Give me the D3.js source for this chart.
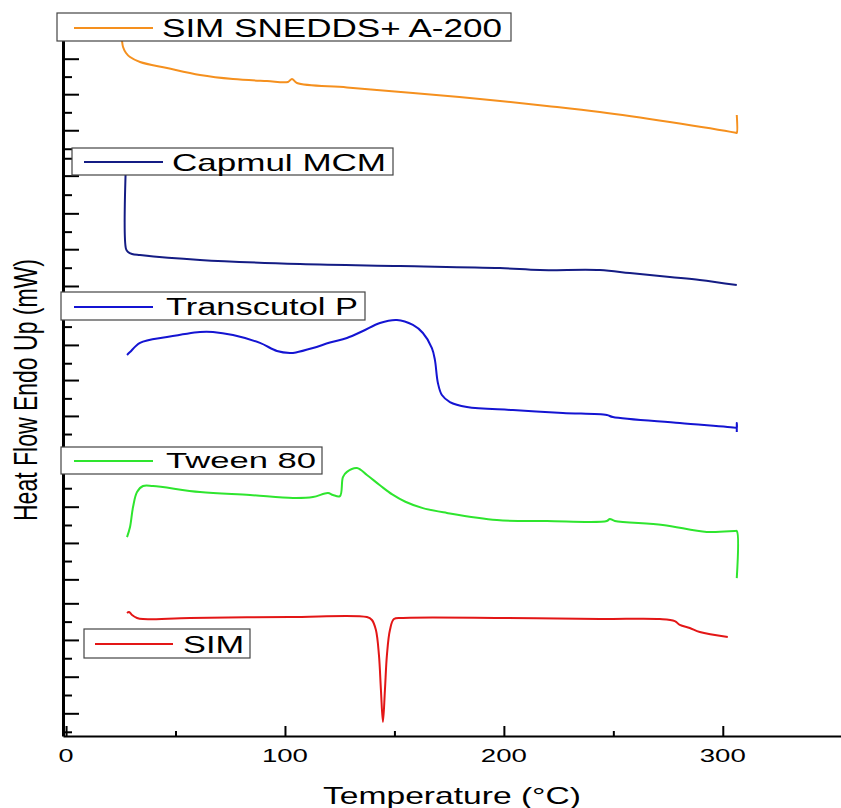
<!DOCTYPE html>
<html>
<head>
<meta charset="utf-8">
<script src="https://cdn.jsdelivr.net/npm/d3@7"></script>
<style>
  html, body { margin: 0; padding: 0; background: #fff; }
  svg { display: block; }
  text { font-family: "Liberation Sans", Arial, sans-serif; fill: #000; }
</style>
</head>
<body>
<script>
// ---------------- DATA ----------------
const seriesNames = ["SIM SNEDDS+ A-200", "Capmul MCM", "Transcutol P", "Tween 80", "SIM"];
const seriesColors = ["#F5901E", "#141C84", "#1414D2", "#2EE52E", "#E31616"];

const xMajorTicks = [0, 100, 200, 300];
const xMinorTicks = [50, 150, 250];
const xTickLabels = ["0", "100", "200", "300"];

const yMajorTicks = [1.24, 3.24, 5.25, 7.25, 8.56, 10.55, 12.53, 14.54, 17.49, 19.45, 21.37, 23.58, 24.59, 26.6, 28.56, 30.62, 33.1, 35.07, 37.01];
const yMinorTicks = [0.23, 2.24, 4.25, 6.25, 9.56, 11.53, 13.54, 15.52, 16.5, 18.45, 20.37, 22.37, 25.59, 27.56, 29.58, 31.57, 32.09, 34.08, 36.03];

// SIM SNEDDS+ A-200 (temperature in °C, heat flow in stacked arbitrary mW units)
const sneddsT  = [25.1, 25.57, 26.03, 27.4, 29.22, 33.79, 46.12, 61.19, 76.26, 91.78, 101.37, 103.2, 105.48, 128.31, 158.45, 189.04, 219.63, 243.84, 275.8, 306.0, 306.39, 306.39];
const sneddsHF = [38.58, 37.98, 37.65, 37.32, 37.10, 36.83, 36.50, 36.12, 35.90, 35.79, 35.74, 35.90, 35.68, 35.44, 35.14, 34.81, 34.43, 34.10, 33.55, 32.96, 32.95, 33.93];

// Capmul MCM
const capmulT  = [27.4, 27.4, 28.31, 30.14, 33.79, 61.19, 106.85, 152.51, 198.17, 216.44, 243.84, 257.53, 275.8, 289.5, 306.39];
const capmulHF = [31.48, 26.61, 26.45, 26.34, 26.28, 26.01, 25.79, 25.68, 25.57, 25.46, 25.46, 25.30, 25.08, 24.92, 24.64];

// Transcutol P
const transT  = [27.85, 29.22, 33.79, 46.12, 61.19, 67.12, 76.26, 88.58, 96.35, 102.28, 105.0, 112.79, 120.55, 128.31, 135.62, 143.38, 151.14, 158.45, 163.01, 167.12, 168.49, 169.86, 171.69, 175.34, 183.11, 204.11, 226.94, 247.03, 249.77, 280.37, 306.0, 306.39, 306.39, 306.39];
const transHF = [20.82, 20.98, 21.48, 21.80, 22.08, 22.08, 21.91, 21.48, 21.04, 20.93, 20.96, 21.20, 21.50, 21.75, 22.13, 22.57, 22.73, 22.46, 22.02, 21.20, 20.55, 19.29, 18.63, 18.25, 17.98, 17.81, 17.65, 17.54, 17.43, 17.10, 16.84, 16.83, 17.10, 16.61];

// Tween 80
const tweenT  = [27.85, 29.22, 30.59, 32.42, 35.16, 39.73, 61.19, 84.02, 103.65, 112.79, 119.63, 121.92, 125.11, 126.48, 128.31, 132.88, 137.44, 143.38, 149.0, 155.0, 163.0, 173.97, 196.8, 219.63, 247.03, 248.4, 250.68, 272.6, 292.69, 305.48, 306.39, 306.39];
const tweenHF = [10.87, 11.42, 12.51, 13.33, 13.66, 13.66, 13.33, 13.17, 13.01, 13.06, 13.28, 13.17, 13.11, 14.15, 14.43, 14.64, 14.26, 13.70, 13.20, 12.80, 12.45, 12.19, 11.80, 11.75, 11.75, 11.86, 11.75, 11.53, 11.15, 11.20, 11.20, 8.63];

// SIM
const simT  = [27.85, 28.77, 30.14, 32.42, 35.16, 56.62, 102.28, 137.44, 139.73, 141.55, 142.92, 143.84, 144.75, 145.66, 146.58, 147.95, 149.77, 153.88, 198.17, 243.84, 271.23, 278.08, 280.37, 284.93, 289.5, 302.28];
const simHF = [6.72, 6.78, 6.61, 6.45, 6.39, 6.45, 6.50, 6.50, 6.34, 5.79, 4.43, 2.51, 0.77, 2.51, 4.43, 5.79, 6.39, 6.45, 6.45, 6.39, 6.39, 6.28, 6.07, 5.90, 5.68, 5.41];

// ---------------- LAYOUT ----------------
const W = 841, H = 808;
const legendLayout = [
  { box: [57, 13, 454, 28],  line: [74, 153, 28],  text: [162, 37], fs: 25,   len: 340 },
  { box: [72, 148, 321, 27], line: [84, 163, 162], text: [172, 171], fs: 24,  len: 214 },
  { box: [61, 292, 304, 28], line: [74, 153, 307], text: [166, 315], fs: 23.5, len: 192 },
  { box: [61, 447, 261, 27], line: [74, 153, 461], text: [166, 468], fs: 22.5, len: 150 },
  { box: [84, 629, 166, 29], line: [95, 173, 644], text: [183, 653], fs: 24,  len: 61 }
];

const svg = d3.select("body").append("svg").attr("width", W).attr("height", H);
svg.append("rect").attr("width", W).attr("height", H).attr("fill", "#fff");

const x = d3.scaleLinear().domain([-1.4, 354]).range([63, 841]);
const y = d3.scaleLinear().domain([0, 38.6]).range([736, 29.6]);

const series = [
  [sneddsT, sneddsHF], [capmulT, capmulHF], [transT, transHF], [tweenT, tweenHF], [simT, simHF]
].map(([t, h]) => t.map((v, i) => [v, h[i]]));

const line = d3.line()
  .x(d => x(d[0]))
  .y(d => y(d[1]))
  .curve(d3.curveCatmullRom.alpha(0.5));

svg.append("g").selectAll("path").data(series).join("path")
  .attr("d", line)
  .attr("fill", "none")
  .attr("stroke", (d, i) => seriesColors[i])
  .attr("stroke-width", 2)
  .attr("stroke-linejoin", "round");

// X axis
const xAxisG = svg.append("g").attr("transform", `translate(0,${y(0)})`);
xAxisG.call(d3.axisBottom(x).tickValues(xMajorTicks).tickSizeInner(-10).tickSizeOuter(0).tickFormat(""));
xAxisG.select(".domain").attr("stroke", "#000").attr("stroke-width", 2);
xAxisG.selectAll(".tick line").attr("stroke", "#000").attr("stroke-width", 2);
const xMinorG = svg.append("g").attr("transform", `translate(0,${y(0)})`);
xMinorG.call(d3.axisBottom(x).tickValues(xMinorTicks).tickSizeInner(-5).tickSizeOuter(0).tickFormat(""));
xMinorG.select(".domain").remove();
xMinorG.selectAll(".tick line").attr("stroke", "#000").attr("stroke-width", 2);

svg.append("g").selectAll("text").data(xMajorTicks).join("text")
  .attr("x", d => x(d))
  .attr("y", 762)
  .attr("text-anchor", "middle")
  .attr("font-size", 18)
  .attr("textLength", (d, i) => xTickLabels[i].length === 1 ? 15 : 46)
  .attr("lengthAdjust", "spacingAndGlyphs")
  .text((d, i) => xTickLabels[i]);

// Y axis
const y0 = x.range()[0];
const yAxisG = svg.append("g").attr("transform", `translate(${y0},0)`);
yAxisG.call(d3.axisRight(y).tickValues(yMajorTicks).tickSizeInner(16).tickSizeOuter(0).tickFormat(""));
yAxisG.select(".domain").attr("stroke", "#000").attr("stroke-width", 3);
yAxisG.selectAll(".tick line").attr("stroke", "#000").attr("stroke-width", 2);
const yMinorG = svg.append("g").attr("transform", `translate(${y0},0)`);
yMinorG.call(d3.axisRight(y).tickValues(yMinorTicks).tickSizeInner(9).tickSizeOuter(0).tickFormat(""));
yMinorG.select(".domain").remove();
yMinorG.selectAll(".tick line").attr("stroke", "#000").attr("stroke-width", 2);

// Axis titles
svg.append("text")
  .attr("x", 452).attr("y", 804)
  .attr("text-anchor", "middle")
  .attr("font-size", 24)
  .attr("textLength", 258)
  .attr("lengthAdjust", "spacingAndGlyphs")
  .text("Temperature (°C)");

svg.append("text")
  .attr("transform", "translate(37,390) rotate(-90)")
  .attr("text-anchor", "middle")
  .attr("font-size", 33)
  .attr("textLength", 262)
  .attr("lengthAdjust", "spacingAndGlyphs")
  .text("Heat Flow Endo Up (mW)");

// Legends
const lg = svg.append("g").selectAll("g").data(legendLayout).join("g");
lg.append("rect")
  .attr("x", d => d.box[0]).attr("y", d => d.box[1])
  .attr("width", d => d.box[2]).attr("height", d => d.box[3])
  .attr("fill", "#fff").attr("stroke", "#444").attr("stroke-width", 1.2);
lg.append("line")
  .attr("x1", d => d.line[0]).attr("x2", d => d.line[1])
  .attr("y1", d => d.line[2]).attr("y2", d => d.line[2])
  .attr("stroke", (d, i) => seriesColors[i]).attr("stroke-width", 2);
lg.append("text")
  .attr("x", d => d.text[0]).attr("y", d => d.text[1])
  .attr("font-size", d => d.fs)
  .attr("textLength", d => d.len)
  .attr("lengthAdjust", "spacingAndGlyphs")
  .text((d, i) => seriesNames[i]);
</script>
</body>
</html>
